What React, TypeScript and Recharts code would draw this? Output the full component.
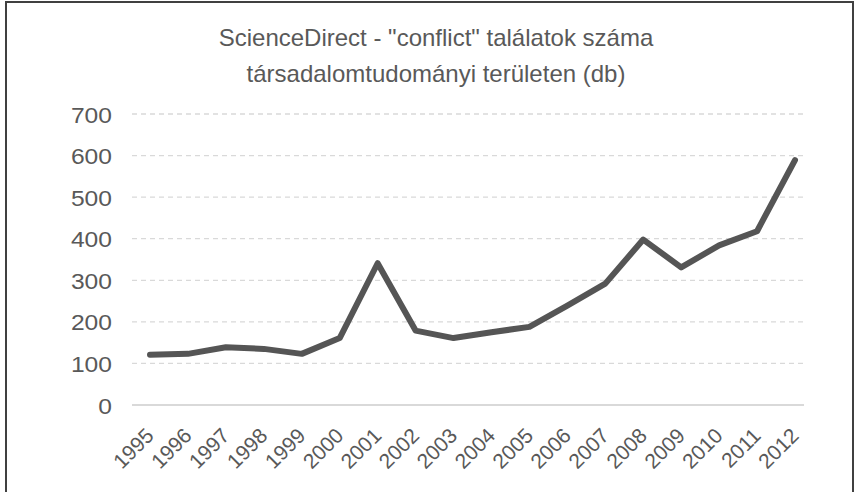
import React from "react";
import { LineChart, Line, XAxis, YAxis, CartesianGrid } from "recharts";

const years = [
  "1995", "1996", "1997", "1998", "1999", "2000", "2001", "2002", "2003",
  "2004", "2005", "2006", "2007", "2008", "2009", "2010", "2011", "2012",
];
const hits = [
  121, 123, 139, 135, 123, 161, 341, 179, 161, 175, 188, 239, 292, 398, 331,
  384, 418, 589,
];
const yTicks = [0, 100, 200, 300, 400, 500, 600, 700];
const titleLines = [
  'ScienceDirect - "conflict" találatok száma',
  "társadalomtudományi területen (db)",
];

const data = years.map((year, i) => ({ year, hits: hits[i] }));

const font = "'Liberation Sans', Arial, sans-serif";
const grey = "#595959";

const YearTick = (props: any) => {
  const { x, y, payload } = props;
  const ax = x + 5;
  const ay = y + 24;
  return (
    <text
      x={ax}
      y={ay}
      transform={`rotate(-45 ${ax} ${ay})`}
      textAnchor="end"
      fill={grey}
      fontSize={21}
      fontFamily={font}
    >
      {payload.value}
    </text>
  );
};

const ValueTick = (props: any) => {
  const { x, y, payload } = props;
  return (
    <g transform={`translate(${x} ${y}) scale(1.12 1)`}>
      <text
        x={0}
        y={0}
        dy={8.5}
        textAnchor="end"
        fill={grey}
        fontSize={22}
        fontFamily={font}
      >
        {payload.value}
      </text>
    </g>
  );
};

const App: React.FC = () => {
  return (
    <div
      style={{
        position: "absolute",
        left: 0,
        top: 0,
        width: 859,
        height: 492,
        background: "#fff",
        overflow: "hidden",
      }}
    >
      <div
        style={{
          position: "absolute",
          left: 5,
          top: 1,
          width: 845,
          height: 500,
          border: "2px solid #404040",
        }}
      />

      {/* Title */}
      <svg
        width={859}
        height={100}
        style={{ position: "absolute", left: 0, top: 0 }}
      >
        {titleLines.map((line, i) => (
          <text
            key={i}
            x={436}
            y={46 + i * 36}
            textAnchor="middle"
            fill={grey}
            fontSize={24}
            fontFamily={font}
          >
            {line}
          </text>
        ))}
      </svg>

      {/* Chart */}
      <div style={{ position: "absolute", left: 0, top: 0 }}>
        <LineChart
          width={859}
          height={492}
          data={data}
          margin={{ top: 114, right: 55, bottom: 27, left: 0 }}
        >
          <CartesianGrid
            vertical={false}
            stroke="#d9d9d9"
            strokeDasharray="5 4"
            strokeWidth={1.3}
          />
          <XAxis
            dataKey="year"
            height={60}
            padding={{ left: 18, right: 9 }}
            axisLine={{ stroke: "#d9d9d9", strokeWidth: 2 }}
            tickLine={false}
            interval={0}
            tick={<YearTick />}
          />
          <YAxis
            width={132}
            domain={[0, 700]}
            ticks={yTicks}
            axisLine={false}
            tickLine={false}
            tickMargin={14}
            tick={<ValueTick />}
          />
          <Line
            type="linear"
            dataKey="hits"
            stroke="#555555"
            strokeWidth={6}
            strokeLinecap="round"
            strokeLinejoin="round"
            dot={false}
            isAnimationActive={false}
          />
        </LineChart>
      </div>
    </div>
  );
};

export default App;
